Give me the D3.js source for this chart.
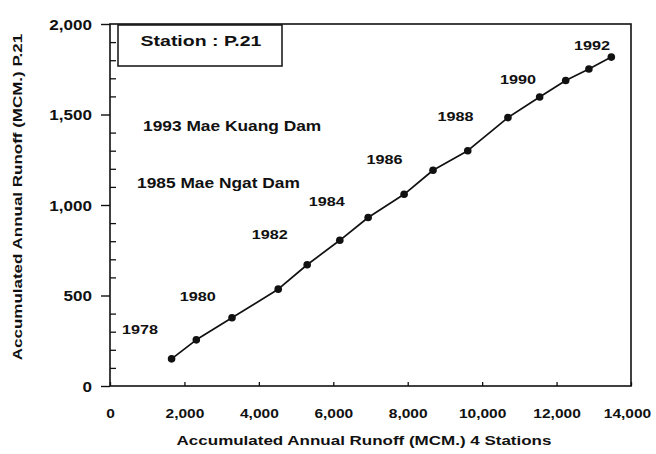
<!DOCTYPE html>
<html>
<head>
<meta charset="utf-8">
<script src="https://cdn.jsdelivr.net/npm/d3@7"></script>
<style>
  html, body { margin: 0; padding: 0; background: #fff; }
  svg { display: block; font-family: "Liberation Sans", Arial, Helvetica, sans-serif; }
</style>
</head>
<body>
<svg id="chart" width="656" height="454"></svg>
<script>
// Double-mass curve: station P.21 against the sum of 4 stations
const years = [1978, 1979, 1980, 1981, 1982, 1983, 1984, 1985, 1986, 1987, 1988, 1989, 1990, 1991, 1992];
const cumFourStations = [1655, 2319, 3278, 4520, 5298, 6175, 6937, 7903, 8680, 9613, 10693, 11545, 12245, 12869, 13471];
const cumP21 = [150, 255, 377, 535, 670, 805, 931, 1059, 1192, 1300, 1483, 1597, 1688, 1751, 1817];

// Year annotations, anchored in data units
const labelYears = [1978, 1980, 1982, 1984, 1986, 1988, 1990, 1992];
const labelAtX = [809, 2355, 4292, 5824, 7379, 9283, 10961, 12950];
const labelAtY = [313, 496, 838, 1023, 1256, 1492, 1697, 1884];

const xTicks = [0, 2000, 4000, 6000, 8000, 10000, 12000, 14000];
const yTicks = [0, 500, 1000, 1500, 2000];
const yMinorTicks = [100, 200, 300, 400, 600, 700, 800, 900, 1100, 1200, 1300, 1400, 1600, 1700, 1800, 1900];

const damNotes = ["1993 Mae Kuang Dam", "1985 Mae Ngat Dam"];
const stationName = "Station : P.21";
const xTitle = "Accumulated Annual Runoff (MCM.) 4 Stations";
const yTitle = "Accumulated Annual Runoff (MCM.) P.21";

const svg = d3.select("#chart");
const ink = "#111";
const plot = { left: 110, right: 631, top: 24, bottom: 386 };

const x = d3.scaleLinear().domain([0, 14000]).range([plot.left, plot.right]);
const y = d3.scaleLinear().domain([0, 2000]).range([plot.bottom, plot.top]);

// Wide sans lettering: bold Arial stretched horizontally
function wideText(parent, str, tx, ty, size, anchor, stretch, extra) {
  return parent.append("text")
    .attr("transform", `translate(${tx},${ty})${extra || ""} scale(${stretch},1)`)
    .attr("text-anchor", anchor)
    .attr("font-size", size)
    .attr("font-weight", "bold")
    .attr("fill", ink)
    .text(str);
}

// Plot frame
svg.append("rect")
  .attr("x", plot.left).attr("y", plot.top)
  .attr("width", plot.right - plot.left).attr("height", plot.bottom - plot.top)
  .attr("fill", "none").attr("stroke", ink).attr("stroke-width", 1.6);

// Left axis: major ticks outward with labels
const yAxis = svg.append("g")
  .attr("transform", `translate(${plot.left},0)`)
  .call(d3.axisLeft(y).tickValues(yTicks).tickSize(9).tickFormat(d3.format(",")));
yAxis.select(".domain").remove();
yAxis.selectAll(".tick line").attr("stroke", ink).attr("stroke-width", 1.4);
yAxis.selectAll(".tick text")
  .attr("x", null).attr("dy", "0.36em")
  .attr("transform", "translate(-18,0) scale(1.22,1)")
  .attr("font-size", 14).attr("font-weight", "bold")
  .attr("font-family", null).attr("fill", ink);

// Left axis: minor ticks inward
const yMinor = svg.append("g")
  .attr("transform", `translate(${plot.left},0)`)
  .call(d3.axisRight(y).tickValues(yMinorTicks).tickSize(6).tickFormat(""));
yMinor.select(".domain").remove();
yMinor.selectAll(".tick line").attr("stroke", ink).attr("stroke-width", 1.3);

// Bottom axis
const xAxis = svg.append("g")
  .attr("transform", `translate(0,${plot.bottom})`)
  .call(d3.axisBottom(x).tickValues(xTicks).tickSizeInner(-4).tickSizeOuter(0).tickFormat(d3.format(",")));
xAxis.select(".domain").remove();
xAxis.selectAll(".tick line").attr("stroke", ink).attr("stroke-width", 1.3);
xAxis.selectAll(".tick text")
  .attr("y", null).attr("dy", null)
  .attr("transform", (d, i, n) => `translate(${i === n.length - 1 ? -4 : 0},32) scale(1.15,1)`)
  .attr("font-size", 13.5).attr("font-weight", "bold")
  .attr("font-family", null).attr("fill", ink);

// Axis titles
wideText(svg, xTitle, 364, 445, 13.6, "middle", 1.25);
wideText(svg, yTitle, 22, 197, 13.6, "middle", 1.25, " rotate(-90)");

// Station box
svg.append("rect")
  .attr("x", 118).attr("y", 25).attr("width", 164).attr("height", 41)
  .attr("fill", "#fff").attr("stroke", ink).attr("stroke-width", 1.5);
svg.append("text")
  .attr("transform", "translate(201,46) scale(1.3,1)")
  .attr("text-anchor", "middle").attr("font-size", 15).attr("font-weight", "bold")
  .attr("fill", ink).text(stationName);

// Dam notes
wideText(svg, damNotes[0], 143, 131, 14, "start", 1.24);
wideText(svg, damNotes[1], 137, 188, 14, "start", 1.24);

// Curve
const series = years.map((yr, i) => ({ year: yr, sx: cumFourStations[i], sy: cumP21[i] }));
svg.append("path")
  .datum(series)
  .attr("fill", "none").attr("stroke", ink).attr("stroke-width", 1.7)
  .attr("stroke-linejoin", "round")
  .attr("d", d3.line().x(d => x(d.sx)).y(d => y(d.sy)));
svg.append("g").selectAll("circle")
  .data(series)
  .join("circle")
  .attr("cx", d => x(d.sx)).attr("cy", d => y(d.sy))
  .attr("r", 3.8).attr("fill", ink);

// Year labels
labelYears.forEach((yr, i) => {
  wideText(svg, String(yr), x(labelAtX[i]), y(labelAtY[i]), 13.5, "middle", 1.2)
    .attr("dy", "0.36em");
});
</script>
</body>
</html>
